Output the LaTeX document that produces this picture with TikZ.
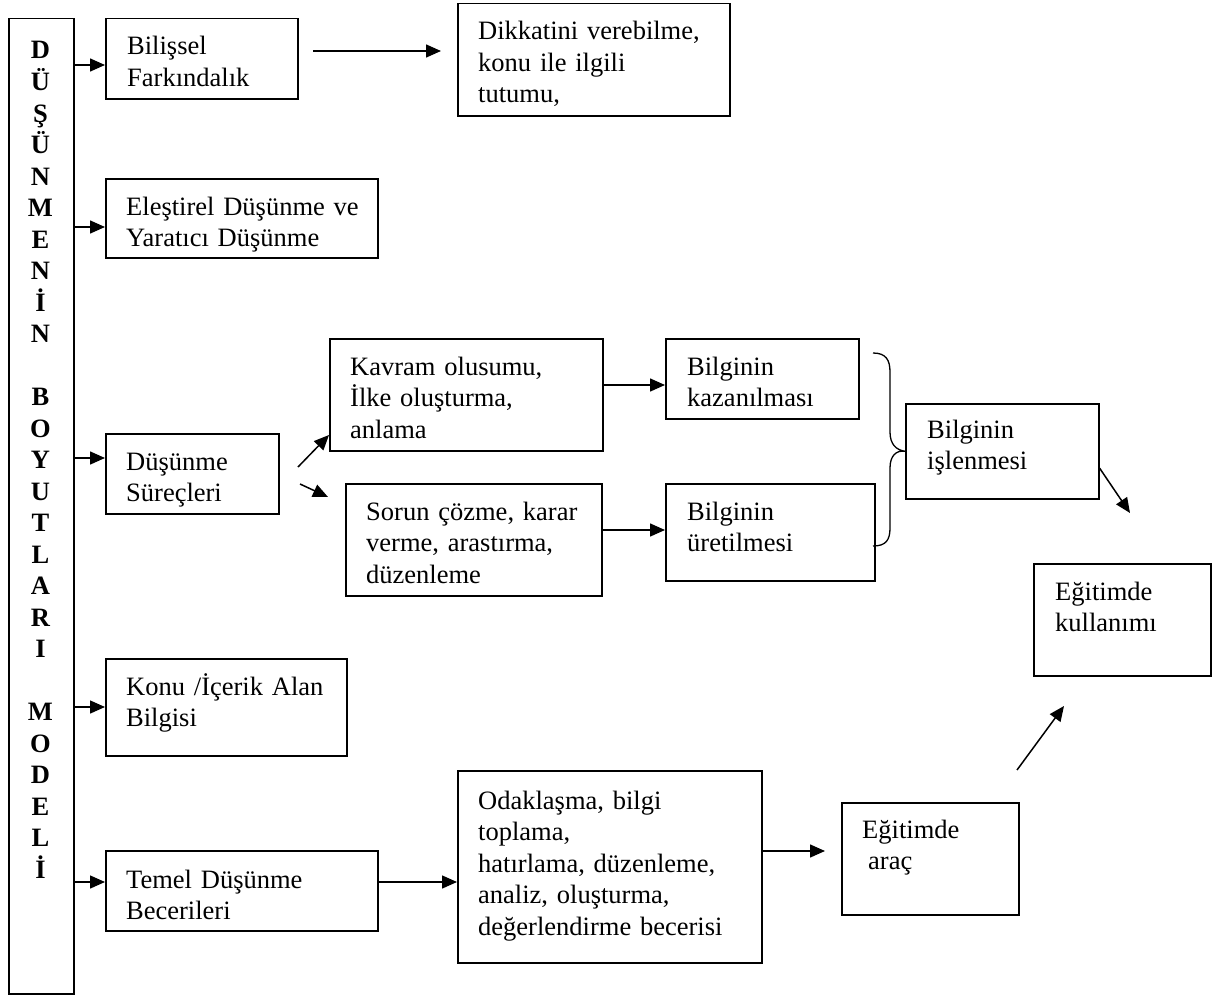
\documentclass[tikz,border=0pt]{standalone}
\usepackage{fontspec}
\setmainfont{Liberation Serif}
\usetikzlibrary{arrows.meta}
\begin{document}
\begin{tikzpicture}[x=1pt,y=-1pt,
  box/.style={draw, line width=1.5pt, rectangle, inner sep=0pt, anchor=north west},
  txt/.style={anchor=base west, inner sep=0pt, text width=340pt, align=left, font=\fontsize{26.5}{31.5}\selectfont},
  arr/.style={line width=1.5pt, -{Triangle[length=15pt,width=13pt]}},
  letter/.style={anchor=base, inner sep=0pt, font=\fontsize{26.5}{31.5}\selectfont\bfseries},
  bracepath/.style={line width=1.3pt}]
\useasboundingbox (0,0) rectangle (1224,998);
% boxes
\node[box, minimum width=65pt,  minimum height=975pt] (tall) at (8,18) {};
\node[box, minimum width=192pt, minimum height=80pt]  (bil)  at (105,18) {};
\node[box, minimum width=272pt, minimum height=112pt] (dik)  at (457,3) {};
\node[box, minimum width=272pt, minimum height=79pt]  (ele)  at (105,178) {};
\node[box, minimum width=173pt, minimum height=80pt]  (dus)  at (105,433) {};
\node[box, minimum width=273pt, minimum height=112pt] (kav)  at (329,338) {};
\node[box, minimum width=256pt, minimum height=112pt] (sor)  at (345,483) {};
\node[box, minimum width=193pt, minimum height=80pt]  (kaz)  at (665,338) {};
\node[box, minimum width=209pt, minimum height=97pt]  (ure)  at (665,483) {};
\node[box, minimum width=193pt, minimum height=95pt]  (isl)  at (905,403) {};
\node[box, minimum width=177pt, minimum height=112pt] (kul)  at (1033,563) {};
\node[box, minimum width=241pt, minimum height=97pt]  (kon)  at (105,658) {};
\node[box, minimum width=272pt, minimum height=80pt]  (tem)  at (105,850) {};
\node[box, minimum width=304pt, minimum height=192pt] (odak) at (457,770) {};
\node[box, minimum width=177pt, minimum height=112pt] (arac) at (841,802) {};
% vertical title letters
\foreach \ch/\k [count=\n] in {D/0,Ü/1,Ş/2,Ü/3,N/4,M/5,E/6,N/7,İ/8,N/9,B/11,O/12,Y/13,U/14,T/15,L/16,A/17,R/18,I/19,M/21,O/22,D/23,E/24,L/25,İ/26}
  \node[letter] (ltr\n) at ({40.5},{59+31.5*\k}) {\ch};
% texts
\node[txt] (tbil)  at (127,55)  {Bilişsel\\Farkındalık};
\node[txt] (tdik)  at (478,40)  {Dikkatini verebilme,\\konu ile ilgili\\tutumu,};
\node[txt] (tele)  at (126,215) {Eleştirel Düşünme ve\\Yaratıcı Düşünme};
\node[txt] (tdus)  at (126,470) {Düşünme\\Süreçleri};
\node[txt] (tkav)  at (350,375) {Kavram olusumu,\\İlke oluşturma,\\anlama};
\node[txt] (tsor)  at (366,520) {Sorun çözme, karar\\verme, arastırma,\\düzenleme};
\node[txt] (tkaz)  at (687,375) {Bilginin\\kazanılması};
\node[txt] (ture)  at (687,520) {Bilginin\\üretilmesi};
\node[txt] (tisl)  at (927,438) {Bilginin\\işlenmesi};
\node[txt] (tkul)  at (1055,600) {Eğitimde\\kullanımı};
\node[txt] (tkon)  at (126,695) {Konu /İçerik Alan\\Bilgisi};
\node[txt] (ttem)  at (126,888) {Temel Düşünme\\Becerileri};
\node[txt] (todak) at (478,809) {Odaklaşma, bilgi\\toplama,\\hatırlama, düzenleme,\\analiz, oluşturma,\\değerlendirme becerisi};
\node[txt] (tarac) at (862,838) {Eğitimde\\\hspace*{6pt}araç};
% arrows from the title column
\draw[arr] (tall.east |- 0,65)  -- (bil.west |- 0,65);
\draw[arr] (tall.east |- 0,227) -- (ele.west |- 0,227);
\draw[arr] (tall.east |- 0,458) -- (dus.west |- 0,458);
\draw[arr] (tall.east |- 0,707) -- (kon.west |- 0,707);
\draw[arr] (tall.east |- 0,882) -- (tem.west |- 0,882);
% other arrows
\coordinate (a1s) at (313,51);
\coordinate (a1e) at (441,51);
\draw[arr] (a1s) -- (a1e);
\coordinate (u1) at (298,467);
\draw[arr] (u1) -- (kav.west |- 0,435);
\coordinate (d1) at (300,484);
\coordinate (d1e) at (328,497);
\draw[arr] (d1) -- (d1e);
\draw[arr] (kav.east |- 0,385) -- (kaz.west |- 0,385);
\draw[arr] (sor.east |- 0,530) -- (ure.west |- 0,530);
\coordinate (i1e) at (1130,513);
\draw[arr] (isl.east |- 0,468) -- (i1e);
\draw[arr] (tem.east |- 0,882) -- (odak.west |- 0,882);
\coordinate (o1e) at (825,851);
\draw[arr] (odak.east |- 0,851) -- (o1e);
\coordinate (k1s) at (1017,770);
\coordinate (k1e) at (1064,706);
\draw[arr] (k1s) -- (k1e);
% brace
\coordinate (bt) at (873,353);
\coordinate (bb) at (873,546);
\draw[bracepath] (bt) .. controls (886,353) and (890,360) .. (890,372) -- (890,432)
  .. controls (890,444) and (896,450) .. (isl.west)
  .. controls (896,450) and (890,456) .. (890,468) -- (890,528)
  .. controls (890,540) and (886,546) .. (bb);
\end{tikzpicture}
\end{document}
